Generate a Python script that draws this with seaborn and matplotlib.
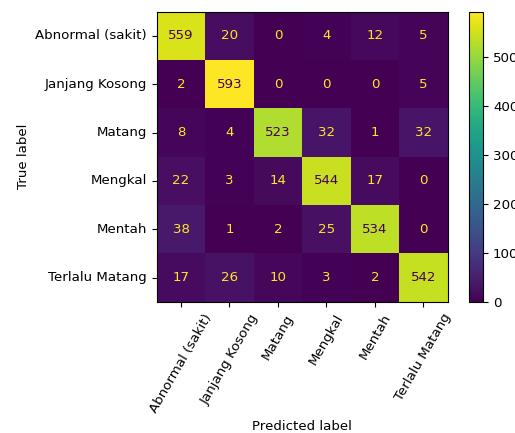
import numpy as np
import pandas as pd
import matplotlib
matplotlib.use("Agg")
import matplotlib.pyplot as plt
import seaborn as sns

labels = ["Abnormal (sakit)", "Janjang Kosong", "Matang", "Mengkal", "Mentah", "Terlalu Matang"]
row_abnormal = [559, 20, 0, 4, 12, 5]
row_janjang = [2, 593, 0, 0, 0, 5]
row_matang = [8, 4, 523, 32, 1, 32]
row_mengkal = [22, 3, 14, 544, 17, 0]
row_mentah = [38, 1, 2, 25, 534, 0]
row_terlalu = [17, 26, 10, 3, 2, 542]

cm = pd.DataFrame(
    [row_abnormal, row_janjang, row_matang, row_mengkal, row_mentah, row_terlalu],
    index=labels, columns=labels,
)

FS = 9.6
plt.rcParams["font.family"] = ["DejaVu Sans"]
plt.rcParams["font.size"] = FS

W, H = 515, 433
DPI = 100
fig = plt.figure(figsize=(W / DPI, H / DPI), dpi=DPI)
ax = fig.add_axes([156.7 / W, (H - 301.7) / H, 291 / W, 290 / H])
cax = fig.add_axes([469 / W, (H - 301.7) / H, 14.3 / W, 290 / H])

cmap = plt.get_cmap("viridis")
vmin, vmax = cm.values.min(), cm.values.max()
sns.heatmap(cm, ax=ax, cbar_ax=cax, cmap=cmap, vmin=vmin, vmax=vmax,
            annot=True, fmt="d", annot_kws={"fontsize": FS}, square=False,
            linewidths=0)

# Annotation colour: dark on bright cells, bright on dark cells
thresh = (vmax + vmin) / 2.0
flat = cm.values.ravel()
for txt, v in zip(ax.texts, flat):
    txt.set_color(cmap(0.0) if v > thresh else cmap(1.0))

for sp in ax.spines.values():
    sp.set_visible(True)
    sp.set_linewidth(0.8)
    sp.set_color("black")

ax.tick_params(axis="both", which="both", length=3.5, width=0.8,
               bottom=True, left=True, labelsize=FS)
ax.set_xticklabels(labels, rotation=60, ha="center")
ax.set_yticklabels(labels, rotation=0)
ax.set_xlabel("Predicted label", fontsize=FS)
ax.set_ylabel("True label", fontsize=FS)

cbar = ax.collections[0].colorbar
cbar.outline.set_visible(True)
cbar.outline.set_linewidth(0.8)
cbar.set_ticks([0, 100, 200, 300, 400, 500])
cbar.ax.tick_params(length=3.5, width=0.8, labelsize=FS)

fig.savefig("out.png", dpi=DPI)
